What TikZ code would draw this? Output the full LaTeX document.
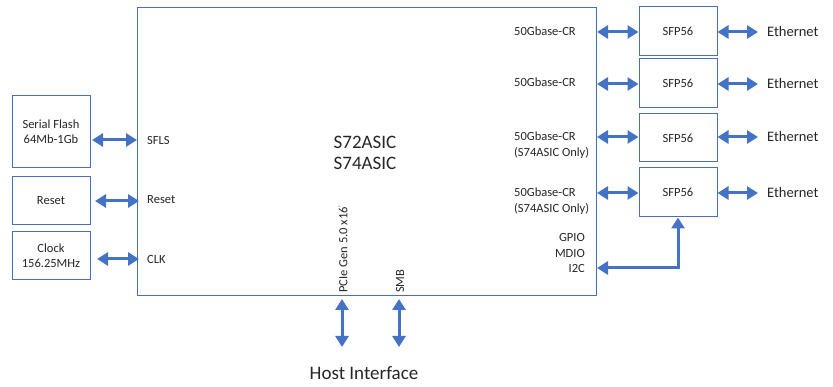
\documentclass[tikz,border=0pt]{standalone}
\usepackage{fontspec}
\setmainfont{Carlito}
\usetikzlibrary{arrows.meta}
\definecolor{linkblue}{HTML}{4472C4}
\definecolor{boxblue}{HTML}{4A6FB5}
\definecolor{txt}{HTML}{262626}
\begin{document}
\begin{tikzpicture}[x=1pt,y=-1pt,
  every node/.style={text=txt, inner sep=0pt},
  blk/.style={draw=boxblue, line width=1pt, fill=white},
  lbl/.style={font=\fontsize{12.5}{14}\selectfont},
  tip/.style={Triangle[width=13pt,length=11pt]},
  link/.style={draw=linkblue, line width=3pt, {Triangle[width=13pt,length=11pt]}-{Triangle[width=13pt,length=11pt]}},
  eth/.style={font=\fontsize{14.5}{16}\selectfont, anchor=west}]
\useasboundingbox (0,0) rectangle (833,387);

% ASIC
\draw[blk] (137,8) rectangle (596,296);
\node[font=\fontsize{19}{22}\selectfont] (t1) at (365,142) {S72ASIC};
\node[font=\fontsize{19}{22}\selectfont] (t2) at (365,163) {S74ASIC};

% left side blocks
\node[blk, lbl, minimum width=78pt, minimum height=72pt, align=center] (flash) at (51,132) {Serial Flash\\[1pt]64Mb-1Gb};
\node[blk, lbl, minimum width=78pt, minimum height=48pt] (rst) at (51,201) {Reset};
\node[blk, lbl, minimum width=78pt, minimum height=48pt, align=center] (clk) at (51,256) {Clock\\[1pt]156.25MHz};

\coordinate (pSF) at (137,140);
\coordinate (pRS) at (139,201);
\coordinate (pCK) at (139,259);
\coordinate (a1) at (92,140);
\coordinate (a2) at (95,201);
\coordinate (a3) at (97,259);
\draw[link] (a1) -- (pSF);
\draw[link] (a2) -- (pRS);
\draw[link] (a3) -- (pCK);
\node[lbl, anchor=west] (lSF) at (147,140) {SFLS};
\node[lbl, anchor=west] (lRS) at (147,200) {Reset};
\node[lbl, anchor=west] (lCK) at (147,259) {CLK};

% SFP56 modules
\foreach \i/\ya/\yb in {1/7/56, 2/59/108, 3/114/162, 4/168/217}{
  \node[blk, lbl, minimum width=78pt, minimum height=\yb pt-\ya pt] (sfp\i) at (678,{(\ya+\yb)/2}) {SFP56};
}
\foreach \i/\y in {1/32, 2/84, 3/137, 4/193}{
  \coordinate (in\i) at (597,\y);
  \draw[link] (in\i) -- (sfp\i.west |- in\i);
  \coordinate (out\i) at (758,\y);
  \draw[link] (sfp\i.east |- in\i) -- (out\i);
  \node[eth] (e\i) at (767,\y) {Ethernet};
}

% port labels inside the ASIC
\node[lbl, anchor=west] (c1) at (514,31) {50Gbase-CR};
\node[lbl, anchor=west] (c2) at (514,82) {50Gbase-CR};
\node[lbl, anchor=west] (c3a) at (514,136) {50Gbase-CR};
\node[lbl, anchor=west] (c3b) at (514,153) {(S74ASIC Only)};
\node[lbl, anchor=west] (c4a) at (514,192) {50Gbase-CR};
\node[lbl, anchor=west] (c4b) at (514,209) {(S74ASIC Only)};
\node[lbl, anchor=east] (g1) at (585,237) {GPIO};
\node[lbl, anchor=east] (g2) at (585,253) {MDIO};
\node[lbl, anchor=east] (g3) at (585,268) {I2C};

% management bus to the SFP56
\coordinate (mgmt) at (597,268);
\draw[link] (mgmt) -- (sfp4.south |- mgmt) -- (sfp4.south);

% host interface
\node[lbl, rotate=90, anchor=west] (pcie) at (343,293) {PCIe Gen 5.0 x16\raisebox{4pt}{\fontsize{7}{7}\selectfont'}};
\node[lbl, rotate=90, anchor=west] (smb) at (400,293) {SMB};
\coordinate (h1) at (342,299);
\coordinate (h2) at (342,347);
\coordinate (h3) at (399,299);
\coordinate (h4) at (399,347);
\draw[link] (h1) -- (h2);
\draw[link] (h3) -- (h4);
\node[font=\fontsize{19}{22}\selectfont] (host) at (364,373) {Host Interface};
\end{tikzpicture}
\end{document}
